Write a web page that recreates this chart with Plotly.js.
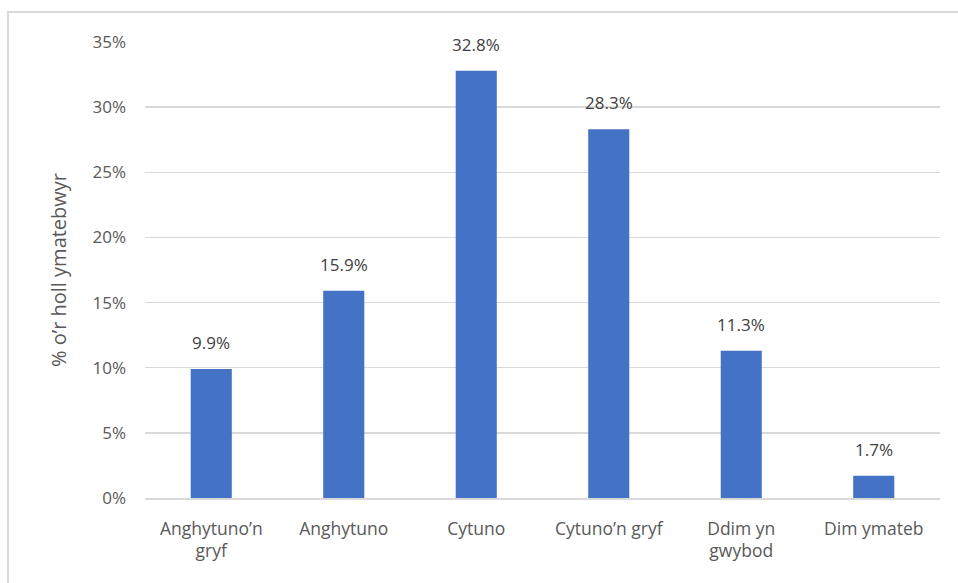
<!DOCTYPE html>
<html>
<head>
<meta charset="utf-8">
<script src="https://cdn.plot.ly/plotly-3.0.1.min.js"></script>
<style>
  body { margin: 0; background: #fff; }
  #chart { width: 958px; height: 583px; }
</style>
</head>
<body>
<div id="chart"></div>
<script>
const categories = ['Anghytuno’n<br>gryf', 'Anghytuno', 'Cytuno', 'Cytuno’n gryf', 'Ddim yn<br>gwybod', 'Dim ymateb'];
const percentages = [9.9, 15.9, 32.8, 28.3, 11.3, 1.7];
const yTicks = [0, 5, 10, 15, 20, 25, 30, 35];

const trace = {
    type: 'bar',
    x: categories,
    y: percentages,
    marker: { color: '#4472C4' },
    hoverinfo: 'none'
};

// etiquetas de valor encima de cada barra
const etiquetas = categories.map((c, i) => ({
    x: c,
    y: percentages[i],
    xref: 'x', yref: 'y',
    text: percentages[i].toFixed(1) + '%',
    showarrow: false,
    yanchor: 'bottom',
    yshift: 13,
    font: { family: 'Open Sans, sans-serif', size: 17, color: '#404040' }
}));

const layout = {
    width: 958,
    height: 583,
    margin: { l: 145, r: 18, t: 42, b: 85 },
    paper_bgcolor: '#fff',
    plot_bgcolor: '#fff',
    bargap: 0.69,
    showlegend: false,
    font: { family: 'Open Sans, sans-serif', color: '#595959' },
    xaxis: {
        tickfont: { size: 17.5, color: '#595959' },
        showline: true,
        linecolor: '#d9d9d9',
        linewidth: 1.5,
        ticks: '',
        ticklabelstandoff: 14,
        fixedrange: true
    },
    yaxis: {
        range: [0, 35],
        tickvals: yTicks,
        ticktext: yTicks.map(v => v + '%'),
        tickfont: { size: 17, color: '#595959' },
        showgrid: true,
        gridcolor: '#d9d9d9',
        gridwidth: 1.5,
        zeroline: false,
        ticks: '',
        ticklabelstandoff: 18,
        title: { text: '% o’r holl ymatebwyr', font: { size: 20, color: '#595959' }, standoff: 20 },
        fixedrange: true
    },
    annotations: etiquetas,
    shapes: [{
        type: 'rect',
        xref: 'paper', yref: 'paper',
        x0: -0.1723, x1: 1.06,
        y0: -0.25, y1: 1.0658,
        line: { color: '#d9d9d9', width: 2 },
        fillcolor: 'rgba(0,0,0,0)',
        layer: 'below'
    }]
};

Plotly.newPlot('chart', [trace], layout, { displayModeBar: false, staticPlot: true });
</script>
</body>
</html>
